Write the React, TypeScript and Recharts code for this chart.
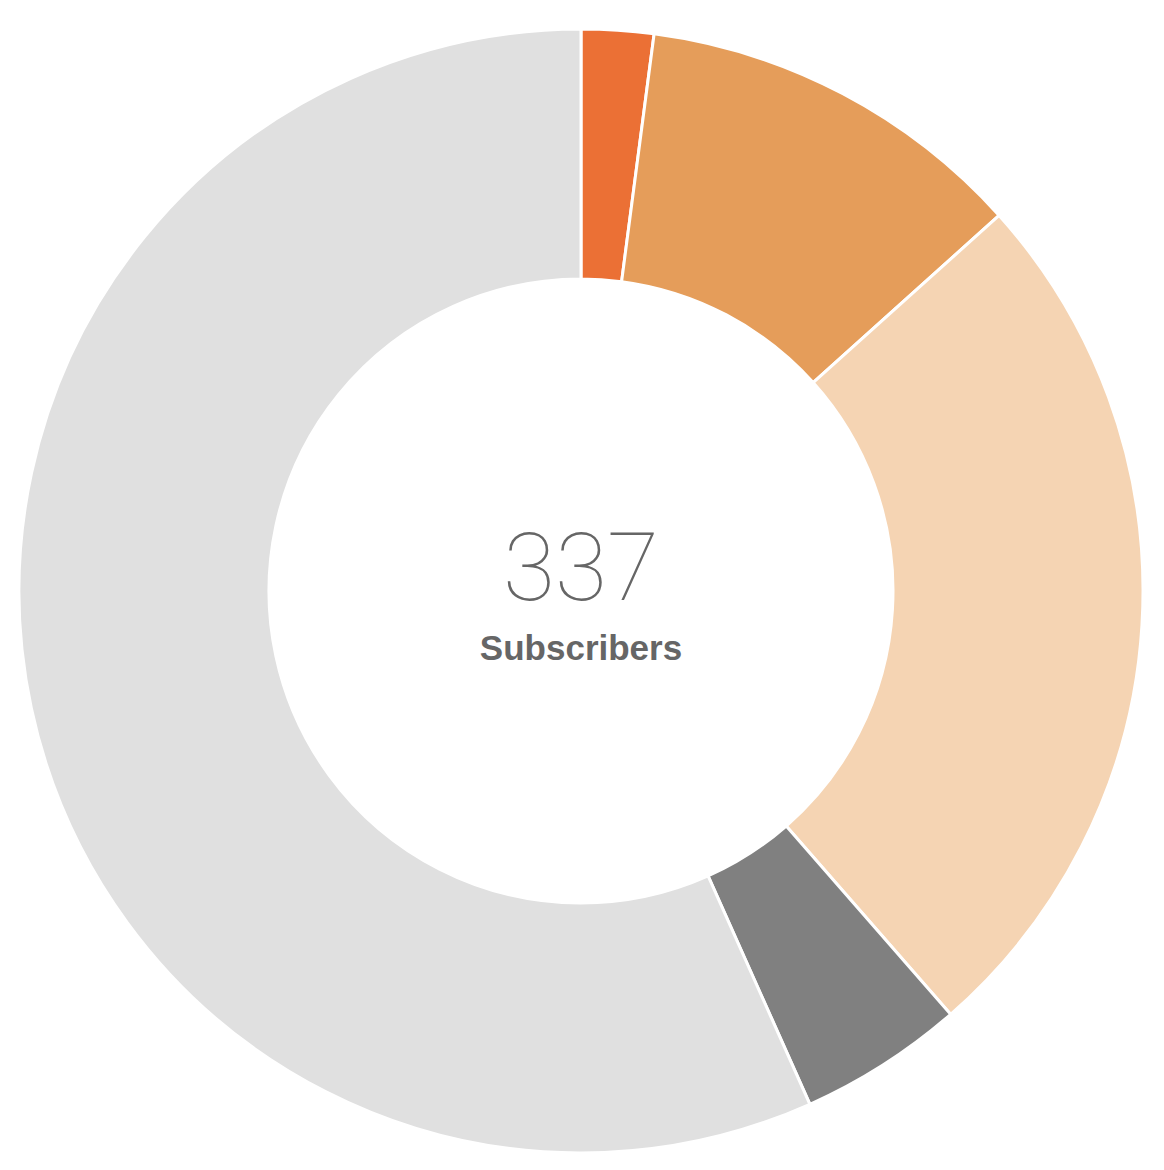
import { PieChart, Pie, Cell } from 'recharts';

const segmentNames = ['Segment A', 'Segment B', 'Segment C', 'Segment D', 'Other'];
const segmentValues = [7, 38, 85, 16, 191];
const segmentColors = ['#EB7035', '#E59D5A', '#F5D4B3', '#808080', '#E0E0E0'];
const totalLabel = '337';
const centerCaption = 'Subscribers';

const data = segmentNames.map((name, i) => ({ name, value: segmentValues[i] }));

const App = () => {
    // pie cx/cy are offset by the chart's default 5px margin
    const textX = 573;
    return (
        <div style={{ width: 1148, height: 1160 }}>
            <PieChart width={1148} height={1160}>
                <Pie
                    data={data}
                    dataKey="value"
                    nameKey="name"
                    cx={568}
                    cy={578}
                    innerRadius={312}
                    outerRadius={562}
                    startAngle={90}
                    endAngle={-270}
                    stroke="#ffffff"
                    strokeWidth={3}
                    isAnimationActive={false}
                >
                    {data.map((d, i) => (
                        <Cell key={d.name} fill={segmentColors[i]} />
                    ))}
                </Pie>
                <text
                    x={textX}
                    y={592}
                    textAnchor="middle"
                    fill="#666666"
                    style={{ fontFamily: 'Roboto, "Liberation Sans", sans-serif', fontWeight: 100, fontSize: 95 }}
                >
                    {totalLabel}
                </text>
                <text
                    x={textX}
                    y={652}
                    textAnchor="middle"
                    fill="#666666"
                    style={{ fontFamily: '"Liberation Sans", Arial, sans-serif', fontWeight: 700, fontSize: 35 }}
                >
                    {centerCaption}
                </text>
            </PieChart>
        </div>
    );
};

export default App;
